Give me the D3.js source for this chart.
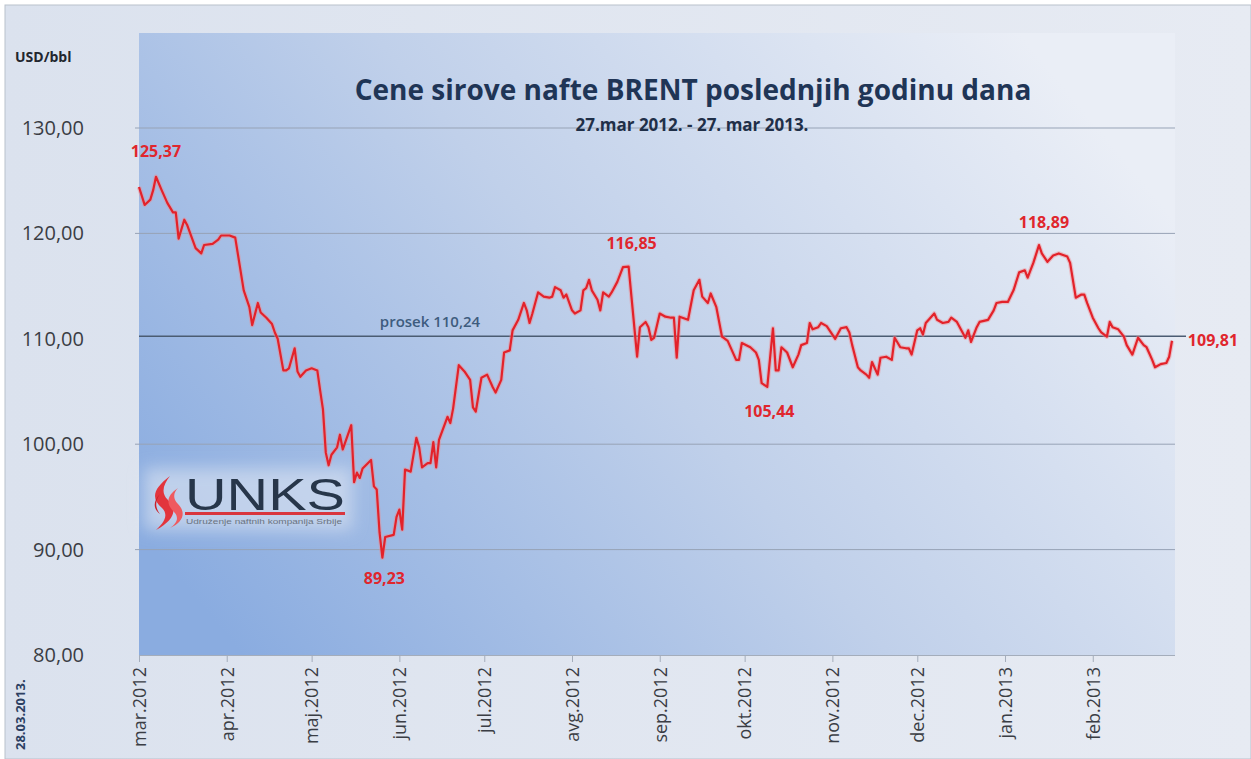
<!DOCTYPE html>
<html>
<head>
<meta charset="utf-8">
<script src="https://d3js.org/d3.v7.min.js"></script>
<style>
  body { margin: 0; background: #fff; }
  text { font-family: "Open Sans", sans-serif; }
</style>
</head>
<body>
<div id="chart"></div>
<script>
// days after 27.03.2012 and Brent closing prices (USD/bbl)
var dayOffsets = [0,2,4,5,6,8,10,12,13,14,16,17,20,22,23,26,28,29,32,34,37,39,40,42,43,45,47,48,49,51,52,53,55,56,57,59,61,63,64,65,66,67,68,70,71,72,75,76,77,78,79,82,83,84,85,86,87,90,91,92,93,94,96,98,99,100,102,103,104,105,106,109,110,111,113,115,117,118,119,121,123,125,126,128,129,131,132,134,136,137,138,139,141,143,145,146,147,149,150,151,153,154,156,157,158,159,160,162,163,164,166,167,169,171,173,174,176,177,179,180,181,182,184,186,188,189,190,191,192,194,196,198,199,201,202,204,206,208,211,212,213,216,218,219,220,222,224,225,226,227,229,231,233,234,236,237,238,240,241,243,245,246,248,250,251,252,254,255,257,258,259,261,262,264,266,267,269,271,272,273,275,276,277,278,281,282,284,286,287,289,290,292,293,294,296,297,300,302,303,305,307,309,311,313,314,316,318,319,321,323,325,328,329,331,333,334,335,337,339,340,342,343,344,346,348,349,351,353,355,356,357,358,359,361,363,364,365];
var prices = [124.4,122.7,123.2,124.1,125.37,124.1,122.9,122.0,122.0,119.5,121.3,120.8,118.6,118.1,118.9,119.0,119.4,119.8,119.8,119.6,114.6,113.0,111.3,113.4,112.5,112.0,111.4,110.6,110.0,107.0,107.0,107.2,109.1,106.9,106.4,107.0,107.2,107.0,105.1,103.3,99.2,98.0,99.0,99.7,100.9,99.5,101.8,96.4,97.3,96.8,97.7,98.5,96.0,95.7,91.6,89.23,91.2,91.4,93.1,93.8,91.9,97.6,97.4,100.6,99.7,97.8,98.2,98.2,100.2,97.8,100.4,102.6,102.0,103.4,107.5,106.9,106.1,103.5,103.1,106.3,106.6,105.4,104.9,106.1,108.7,108.9,110.8,111.8,113.4,112.7,111.5,112.4,114.4,114.0,113.9,114.0,114.9,114.6,113.9,114.2,112.7,112.4,112.7,114.6,114.8,115.6,114.6,113.7,112.7,114.4,114.0,114.4,115.4,116.8,116.85,114.0,108.3,111.1,111.6,111.1,109.9,110.1,112.4,112.1,112.0,112.0,108.2,112.1,112.0,111.8,114.6,115.6,114.0,113.4,114.3,113.0,110.2,109.8,108.0,108.0,109.6,109.2,108.7,108.0,105.8,105.44,111.0,107.0,107.0,109.2,108.7,107.3,108.5,109.4,109.6,111.5,110.9,111.1,111.5,111.2,110.4,110.0,111.0,111.1,110.6,109.4,107.3,107.0,106.6,106.3,107.8,106.6,108.2,108.3,108.0,110.1,109.2,109.1,109.1,108.5,110.8,111.0,110.4,111.5,112.4,111.8,111.5,111.6,112.0,111.6,111.1,110.1,110.8,109.7,111.1,111.6,111.8,112.7,113.4,113.5,113.5,114.6,116.3,116.5,115.8,117.2,118.89,118.1,117.3,117.9,118.1,117.8,117.2,113.9,114.2,114.2,113.4,112.0,111.0,110.6,110.2,111.6,111.1,110.9,110.2,109.4,108.5,110.1,109.4,109.2,108.6,108.0,107.3,107.6,107.7,108.3,109.81];

var monthLabels = ["mar.2012","apr.2012","maj.2012","jun.2012","jul.2012","avg.2012","sep.2012","okt.2012","nov.2012","dec.2012","jan.2013","feb.2013"];
var yTicks = [80, 90, 100, 110, 120, 130];
var average = 110.24;
// annotated values: [value, dx, dy]
var callouts = [
  [125.37, 0, -20],
  [89.23, 2, 26],
  [116.85, 3, -18],
  [105.44, 2, 30],
  [118.89, 5, -17],
  [109.81, 41, 5]
];

var W = 1251, H = 759;
var plotL = 139, plotR = 1175, plotT = 33, plotB = 655;
var start = new Date(2012, 2, 27);

var data = dayOffsets.map(function (d, i) {
  return { date: d3.timeDay.offset(start, d), value: prices[i] };
});

var svg = d3.select("#chart").append("svg")
  .attr("width", W).attr("height", H);

var defs = svg.append("defs");
var outerGrad = defs.append("linearGradient").attr("id", "outerGrad")
  .attr("x1", 0).attr("y1", 0).attr("x2", 1).attr("y2", 0);
outerGrad.append("stop").attr("offset", 0).attr("stop-color", "#dbe2ee");
outerGrad.append("stop").attr("offset", 1).attr("stop-color", "#e7ebf3");

var plotGrad = defs.append("linearGradient").attr("id", "plotGrad")
  .attr("x1", 0).attr("y1", 0.8).attr("x2", 1).attr("y2", 0.3);
plotGrad.append("stop").attr("offset", 0).attr("stop-color", "#8aace0");
plotGrad.append("stop").attr("offset", 0.5).attr("stop-color", "#c0d0ea");
plotGrad.append("stop").attr("offset", 1).attr("stop-color", "#eaeef6");

var glow = defs.append("filter").attr("id", "glow")
  .attr("x", "-20%").attr("y", "-40%").attr("width", "140%").attr("height", "180%");
glow.append("feGaussianBlur").attr("stdDeviation", 8);

// frame
svg.append("rect").attr("x", 5).attr("y", 5).attr("width", W - 5).attr("height", H - 5)
  .attr("fill", "url(#outerGrad)").attr("stroke", "#b9c1cc").attr("stroke-width", 1);

svg.append("rect").attr("x", plotL).attr("y", plotT)
  .attr("width", plotR - plotL).attr("height", plotB - plotT)
  .attr("fill", "url(#plotGrad)");

var x = d3.scaleTime()
  .domain([start, new Date(2013, 2, 27)])
  .range([plotL, 1172]);
var y = d3.scaleLinear().domain([80, 130]).range([plotB, 128]);

// grid (the 110 line sits under the average line)
svg.append("g").selectAll("line")
  .data(yTicks.filter(function (d) { return d > 80 && d !== 110; }))
  .enter().append("line")
  .attr("x1", plotL - 4).attr("x2", plotR)
  .attr("y1", function (d) { return y(d); })
  .attr("y2", function (d) { return y(d); })
  .attr("stroke", "#97a3b6").attr("stroke-width", 1);

// y labels
svg.append("g").selectAll("text")
  .data(yTicks).enter().append("text")
  .attr("x", 84)
  .attr("y", function (d) { return y(d) + 7; })
  .attr("text-anchor", "end")
  .style("font-size", "20px")
  .style("fill", "#3a3d44")
  .text(function (d) { return d3.format(".2f")(d).replace(".", ","); });

svg.append("text").attr("x", 15).attr("y", 62)
  .style("font-size", "14px").style("font-weight", "bold").style("fill", "#22262e")
  .text("USD/bbl");

// x axis
var tickDates = monthLabels.map(function (m, i) { return new Date(2012, 2 + i, 27); });
var xAxis = d3.axisBottom(x)
  .tickValues(tickDates)
  .tickSize(7)
  .tickFormat(function (d, i) { return monthLabels[i]; });
var gx = svg.append("g").attr("transform", "translate(0," + plotB + ")").call(xAxis);
gx.select(".domain").attr("d", "M" + plotL + ",0.5H" + plotR).attr("stroke", "#a4adbb");
gx.selectAll(".tick line").attr("stroke", "#a4adbb");
gx.selectAll(".tick text")
  .attr("transform", "rotate(-90)")
  .attr("x", -12).attr("y", 0).attr("dy", "0.35em")
  .attr("text-anchor", "end")
  .style("font-family", "Open Sans, sans-serif")
  .style("font-size", "18px")
  .style("fill", "#3a3d44");

svg.append("text")
  .attr("transform", "translate(25,750) rotate(-90)")
  .style("font-size", "13px").style("font-weight", "bold").style("fill", "#2c3f62")
  .text("28.03.2013.");

// title
svg.append("text").attr("x", 693).attr("y", 100)
  .attr("text-anchor", "middle")
  .style("font-size", "28px").style("font-weight", "bold").style("fill", "#1f3556")
  .text("Cene sirove nafte BRENT poslednjih godinu dana");
svg.append("text").attr("x", 692).attr("y", 131)
  .attr("text-anchor", "middle")
  .style("font-size", "17px").style("font-weight", "bold").style("fill", "#1f2f48")
  .text("27.mar 2012. - 27. mar 2013.");

// logo
var logo = svg.append("g").attr("transform", "translate(148,474)");
logo.append("rect").attr("x", -4).attr("y", -6).attr("width", 208).attr("height", 62)
  .attr("fill", "#dfe6f2").attr("opacity", 0.6).attr("filter", "url(#glow)");
logo.append("path")
  .attr("d", "M22,2 C6,14 2,24 14,34 C22,42 14,50 8,56 C26,46 30,36 20,26 C12,18 16,10 22,2 Z")
  .attr("fill", "#e2353d");
logo.append("path")
  .attr("d", "M30,14 C18,22 18,30 26,38 C32,44 28,50 22,54 C36,48 38,38 30,30 C24,24 26,18 30,14 Z")
  .attr("fill", "#ef5a5f");
logo.append("path")
  .attr("d", "M12,20 C4,28 6,36 12,40 C6,32 8,26 12,20 Z")
  .attr("fill", "#c91f28");
logo.append("text").attr("x", 37).attr("y", 36)
  .attr("textLength", 160).attr("lengthAdjust", "spacingAndGlyphs")
  .style("font-family", "Liberation Sans, Arial, sans-serif")
  .style("font-size", "45px").style("fill", "#27364a")
  .text("UNKS");
logo.append("rect").attr("x", 37).attr("y", 38).attr("width", 160).attr("height", 3)
  .attr("fill", "#d9363e");
logo.append("text").attr("x", 38).attr("y", 50)
  .attr("textLength", 156).attr("lengthAdjust", "spacingAndGlyphs")
  .style("font-family", "Liberation Sans, Arial, sans-serif")
  .style("font-size", "7px").style("fill", "#6a7380")
  .text("Udruženje naftnih kompanija Srbije");

// average line
svg.append("line")
  .attr("x1", plotL).attr("x2", 1186)
  .attr("y1", y(average)).attr("y2", y(average))
  .attr("stroke", "#4b5c72").attr("stroke-width", 1.5);
svg.append("text").attr("x", 430).attr("y", y(average) - 9)
  .attr("text-anchor", "middle")
  .style("font-size", "15px").style("font-weight", 600).style("fill", "#3e5c7e")
  .text("prosek " + d3.format(".2f")(average).replace(".", ","));

// price line
var line = d3.line()
  .x(function (d) { return x(d.date); })
  .y(function (d) { return y(d.value); });
svg.append("path").datum(data)
  .attr("d", line).attr("fill", "none")
  .attr("stroke", "#f08a8e").attr("stroke-width", 4.5).attr("stroke-opacity", 0.45)
  .attr("stroke-linejoin", "round");
svg.append("path").datum(data)
  .attr("d", line).attr("fill", "none")
  .attr("stroke", "#e3222a").attr("stroke-width", 2.2)
  .attr("stroke-linejoin", "round");

// callouts
callouts.forEach(function (c) {
  var p = data.find(function (d) { return d.value === c[0]; });
  svg.append("text")
    .attr("x", x(p.date) + c[1])
    .attr("y", y(p.value) + c[2])
    .attr("text-anchor", "middle")
    .style("font-size", "16px").style("font-weight", "bold").style("fill", "#e0262d")
    .text(d3.format(".2f")(c[0]).replace(".", ","));
});
</script>
</body>
</html>
